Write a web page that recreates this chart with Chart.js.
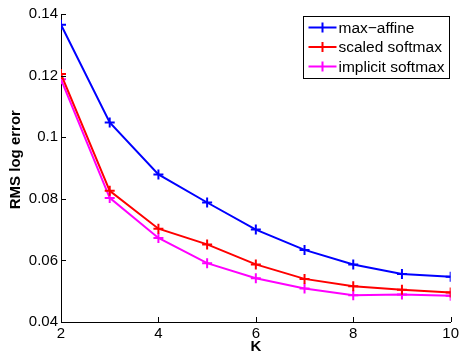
<!DOCTYPE html>
<html><head><meta charset="utf-8">
<script src="https://cdn.jsdelivr.net/npm/chart.js@4"></script>
<style>html,body{margin:0;padding:0;background:#fff}#w{width:462px;height:356px}</style>
</head><body><div id="w"><canvas id="c" width="462" height="356"></canvas></div>
<script>
const K = [2, 3, 4, 5, 6, 7, 8, 9, 10];
const maxAffine = [0.1365, 0.1048, 0.0879, 0.0788, 0.0700, 0.0634, 0.0587, 0.0556, 0.0547];
const scaledSoftmax = [0.1205, 0.0826, 0.0703, 0.0652, 0.0587, 0.0540, 0.0516, 0.0505, 0.0496];
const implicitSoftmax = [0.1188, 0.0803, 0.0673, 0.0591, 0.0542, 0.0509, 0.0487, 0.0489, 0.0485];
const seriesNames = ['max\u2212affine', 'scaled softmax', 'implicit softmax'];
const seriesColors = ['#0000ff', '#ff0000', '#ff00ff'];
const yTicks = [0.04, 0.06, 0.08, 0.1, 0.12, 0.14];
const xTicks = [2, 4, 6, 8, 10];

const FONT = 'Liberation Sans, Arial, sans-serif';
const mk = (data, i) => ({
  label: seriesNames[i],
  data: K.map((k, j) => ({x: k, y: data[j]})),
  borderColor: seriesColors[i], backgroundColor: seriesColors[i],
  borderWidth: 2, pointStyle: 'cross', pointRadius: 5, pointBorderWidth: 2,
  pointHoverRadius: 5, tension: 0, fill: false
});

const inwardTicks = {
  id: 'inwardTicks',
  afterDraw(chart) {
    const ctx = chart.ctx, a = chart.chartArea;
    const xs = chart.scales.x, ys = chart.scales.y;
    ctx.save();
    ctx.strokeStyle = '#000'; ctx.lineWidth = 1;
    ctx.beginPath();
    xTicks.forEach(v => { const p = Math.round(xs.getPixelForValue(v)) + 0.5; ctx.moveTo(p, a.bottom); ctx.lineTo(p, a.bottom - 5); });
    yTicks.forEach(v => { const p = Math.round(ys.getPixelForValue(v)) + 0.5; ctx.moveTo(a.left, p); ctx.lineTo(a.left + 5, p); });
    ctx.stroke();
    ctx.restore();
  }
};

const legendBox = {
  id: 'legendBox',
  afterDraw(chart) {
    const ctx = chart.ctx;
    const x0 = 303.5, y0 = 16.5, w = 146, h = 62;
    ctx.save();
    ctx.fillStyle = '#fff'; ctx.fillRect(x0, y0, w, h);
    ctx.strokeStyle = '#000'; ctx.lineWidth = 1; ctx.strokeRect(x0, y0, w, h);
    ctx.font = '15.5px ' + FONT; ctx.textBaseline = 'middle'; ctx.textAlign = 'left';
    chart.data.datasets.forEach((ds, i) => {
      const y = y0 + 11 + i * 19.5;
      ctx.strokeStyle = ds.borderColor; ctx.lineWidth = 2;
      ctx.beginPath(); ctx.moveTo(x0 + 5, y); ctx.lineTo(x0 + 33, y);
      ctx.moveTo(x0 + 19, y - 5); ctx.lineTo(x0 + 19, y + 5);
      ctx.stroke();
      ctx.fillStyle = '#000'; ctx.fillText(ds.label, x0 + 35, y + 1);
    });
    ctx.restore();
  }
};

new Chart(document.getElementById('c'), {
  type: 'line',
  data: { datasets: [mk(maxAffine, 0), mk(scaledSoftmax, 1), mk(implicitSoftmax, 2)] },
  options: {
    responsive: false, animation: false, devicePixelRatio: 1,
    layout: { padding: { top: 14, right: 9, left: 0, bottom: 0 } },
    plugins: { legend: { display: false }, tooltip: { enabled: false } },
    scales: {
      x: {
        type: 'linear', min: 2, max: 10,
        afterBuildTicks: s => { s.ticks = xTicks.map(v => ({value: v})); },
        afterFit: s => { s.height = 34; },
        grid: { display: true, drawOnChartArea: false, drawTicks: false },
        border: { display: true, color: '#000', width: 1 },
        ticks: { color: '#000', font: { family: FONT, size: 15 }, padding: 3, maxRotation: 0 },
        title: { display: true, text: 'K', color: '#000', font: { family: FONT, size: 15, weight: 'bold' }, padding: { top: -5, bottom: 0 } }
      },
      y: {
        type: 'linear', min: 0.04, max: 0.14,
        afterBuildTicks: s => { s.ticks = yTicks.map(v => ({value: v})); },
        afterFit: s => { s.width = 61; },
        grid: { display: true, drawOnChartArea: false, drawTicks: false },
        border: { display: true, color: '#000', width: 1 },
        ticks: { color: '#000', font: { family: FONT, size: 15 }, padding: 3,
          callback: v => String(Number(v.toFixed(2))) },
        title: { display: true, text: '    RMS log error', color: '#000', font: { family: FONT, size: 15, weight: 'bold' }, padding: { top: 7, bottom: 0 } }
      }
    }
  },
  plugins: [inwardTicks, legendBox]
});
</script></body></html>
